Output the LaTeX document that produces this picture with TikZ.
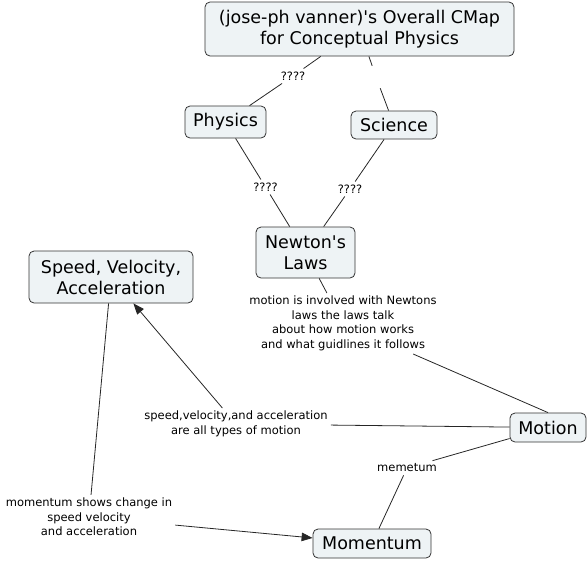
\documentclass[tikz,border=0pt]{standalone}
\usepackage{fontspec}
\setmainfont{DejaVu Sans}
\usetikzlibrary{arrows.meta,positioning}
\definecolor{cmapfill}{HTML}{EEF3F5}

\begin{document}
\begin{tikzpicture}[
    x=1pt,y=-1pt,
    >={Triangle[length=11pt,width=8.5pt]},
    concept/.style={
        draw=black!80,
        line width=0.8pt,
        fill=cmapfill,
        rounded corners=5pt,
        align=center,
        inner sep=2pt,
        font=\fontsize{17.5}{21}\selectfont
    },
    linker/.style={
        align=center,
        inner sep=3pt,
        font=\fontsize{11.5}{14.5}\selectfont
    },
    link/.style={line width=0.8pt, draw=black!85},
    linkarrow/.style={link, ->}
]

\useasboundingbox (0,0) rectangle (588,560);

% -----------------------------------------------------------------------------
% Concepts
% -----------------------------------------------------------------------------
\node[concept, minimum width=309pt, minimum height=54pt] (title) at (359.5,29)
    {(jose-ph vanner)\textquotesingle s Overall CMap\\for Conceptual Physics};
\node[concept, minimum width=81pt, minimum height=32pt] (physics) at (225.5,122) {Physics};
\node[concept, minimum width=86pt, minimum height=28pt] (science) at (394,125) {Science};
\node[concept, minimum width=99pt, minimum height=51pt] (newton) at (305.5,252.5)
    {Newton\textquotesingle s\\Laws};
\node[concept, minimum width=164pt, minimum height=52pt] (speed) at (111,277)
    {Speed, Velocity,\\Acceleration};
\node[concept, minimum width=76pt, minimum height=29pt] (motion) at (548,427.5) {Motion};
\node[concept, minimum width=118pt, minimum height=29pt] (momentum) at (372,543.5) {Momentum};

% -----------------------------------------------------------------------------
% Linking phrases
% -----------------------------------------------------------------------------
\node[linker] (qphys) at (293,76) {????};
\node[inner sep=0pt, minimum width=8pt, minimum height=22pt] (qsci) at (376,77) {};
\node[linker] (qnewa) at (265.5,187) {????};
\node[linker] (qnewb) at (350,189) {????};
\node[linker] (lnewton) at (343,323.5)
    {motion is involved with Newtons\\laws the laws talk\\about how motion works\\and what guidlines it follows};
\node[linker] (lspeed) at (236,424)
    {speed,velocity,and acceleration\\are all types of motion};
\node[linker] (lmemetum) at (407,468) {memetum};
\node[linker] (lmomentum) at (89,517)
    {momentum shows change in\\speed velocity\\and acceleration};

% -----------------------------------------------------------------------------
% Connectors
% -----------------------------------------------------------------------------
\draw[link] (title) -- (qphys);
\draw[link] (qphys) -- (physics);
\draw[link] (title) -- (qsci);
\draw[link] (qsci) -- (science);
\draw[link] (physics) -- (qnewa);
\draw[link] (qnewa) -- (newton);
\draw[link] (science) -- (qnewb);
\draw[link] (qnewb) -- (newton);
\draw[link] (newton) -- (lnewton);
\draw[link] (lnewton) -- (motion.north);
\draw[link] (motion) -- (lspeed);
\draw[linkarrow] (lspeed) -- (speed);
\draw[link] (motion) -- (lmemetum);
\draw[link] (lmemetum) -- (momentum);
\draw[link] (speed) -- (lmomentum);
\draw[linkarrow] (lmomentum) -- (momentum);

\end{tikzpicture}
\end{document}
